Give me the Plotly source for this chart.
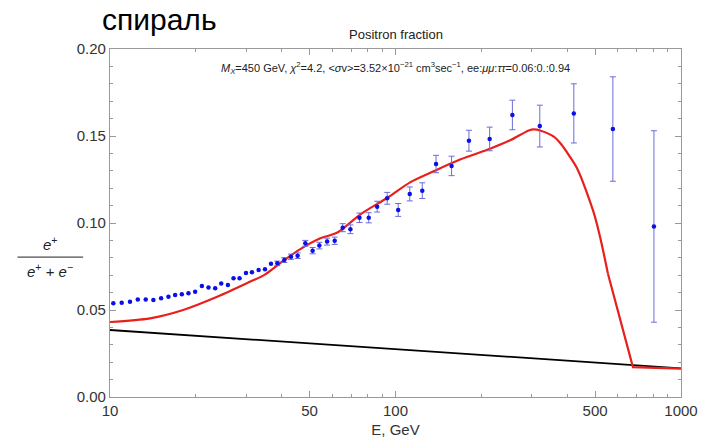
import plotly.graph_objects as go

# ---- data ----
data_E = [10.27, 10.99, 11.75, 12.51, 13.34, 14.19, 15.10, 16.02, 16.91, 17.85,
          18.83, 19.87, 20.98, 22.13, 23.36, 24.52, 25.88, 27.08, 28.43, 29.94,
          31.42, 33.15, 34.90, 36.64, 38.55, 40.79, 43.06, 45.41, 48.32, 51.25,
          54.12, 57.59, 61.24, 65.33, 69.51, 74.78, 80.59, 86.26, 93.52, 102.2,
          112.2, 124.1, 138.7, 157.2, 180.8, 213.7, 256.7, 320.2, 421.3, 577.2, 803.9]
data_val = [0.0539, 0.0542, 0.0548, 0.0561, 0.0561, 0.0557, 0.0567, 0.0576, 0.0586, 0.0590,
            0.0596, 0.0605, 0.0638, 0.0630, 0.0625, 0.0653, 0.0644, 0.0682, 0.0682, 0.0712,
            0.0717, 0.0730, 0.0734, 0.0766, 0.0768, 0.0787, 0.0806, 0.0812, 0.0883, 0.0841,
            0.0870, 0.0893, 0.0898, 0.0973, 0.0964, 0.1030, 0.1030, 0.1094, 0.1142, 0.1075,
            0.1167, 0.1186, 0.1339, 0.1328, 0.1473, 0.1483, 0.1621, 0.1557, 0.1630, 0.1540, 0.0980]
data_err = [0.0006, 0.0006, 0.0006, 0.0006, 0.0006, 0.0006, 0.0007, 0.0007, 0.0007, 0.0007,
            0.0008, 0.0008, 0.0008, 0.0008, 0.0009, 0.0009, 0.0009, 0.0010, 0.0010, 0.0010,
            0.0011, 0.0011, 0.0012, 0.0012, 0.0013, 0.0014, 0.0015, 0.0016, 0.0017, 0.0018,
            0.0019, 0.0020, 0.0021, 0.0023, 0.0025, 0.0027, 0.0029, 0.0031, 0.0034, 0.0037,
            0.0040, 0.0045, 0.0050, 0.0056, 0.0060, 0.0068, 0.0085, 0.0120, 0.0170, 0.0300, 0.0550]

model_E = [10, 13.81, 18.04, 23.74, 30.26, 34.99, 39.49, 46.42, 54.56, 62.59,
           75.39, 93.74, 112.9, 135.9, 169.1, 215.4, 253.2, 292.8, 305.0, 322.7,
           358.4, 379.3, 404.6, 435.2, 495.3, 524.0, 554.5, 615.0, 678.6, 1000]
model_val = [0.0431, 0.0452, 0.0500, 0.0576, 0.0655, 0.0705, 0.0770, 0.0850, 0.0912, 0.0945,
             0.1050, 0.1145, 0.1235, 0.1297, 0.1366, 0.1428, 0.1477, 0.1532, 0.1538, 0.1530,
             0.1496, 0.1455, 0.1390, 0.1305, 0.1057, 0.0900, 0.0710, 0.0430, 0.0172, 0.0163]

bg_E = [10, 1000]
bg_val = [0.0385, 0.0165]

marker_E = 30.3

x_ticks = [10, 50, 100, 500, 1000]
x_minor = [20, 30, 40, 60, 70, 80, 90, 200, 300, 400, 600, 700, 800, 900]
y_ticks = [0.00, 0.05, 0.10, 0.15, 0.20]

FONT = "Liberation Sans, Arial, sans-serif"
ERR_VISIBLE = 0.00125  # error bars smaller than this are hidden under the dot in the reference

fig = go.Figure()

fig.add_trace(go.Scatter(
    x=bg_E, y=bg_val, mode="lines",
    line=dict(color="black", width=1.8), hoverinfo="skip", showlegend=False))

# smooth part of the model curve and the steep linear fall-off
n_smooth = model_E.index(554.5) + 1
fig.add_trace(go.Scatter(
    x=model_E[:n_smooth], y=model_val[:n_smooth], mode="lines",
    line=dict(color="#e8201c", width=2.2, shape="spline", smoothing=0.8), showlegend=False))
fig.add_trace(go.Scatter(
    x=model_E[n_smooth - 1:], y=model_val[n_smooth - 1:], mode="lines",
    line=dict(color="#e8201c", width=2.2), showlegend=False))

small = [i for i, e in enumerate(data_err) if e < ERR_VISIBLE]
big = [i for i, e in enumerate(data_err) if e >= ERR_VISIBLE]

fig.add_trace(go.Scatter(
    x=[data_E[i] for i in small], y=[data_val[i] for i in small], mode="markers",
    marker=dict(color="#0a10e6", size=4.5), showlegend=False))
fig.add_trace(go.Scatter(
    x=[data_E[i] for i in big], y=[data_val[i] for i in big], mode="markers",
    marker=dict(color="#0a10e6", size=4.5),
    error_y=dict(type="data", array=[data_err[i] for i in big], color="#6b6bd8", thickness=1, width=3),
    showlegend=False))

fig.add_vline(x=marker_E, line=dict(color="#8fe88f", width=1.2))

fig.update_xaxes(
    type="log", range=[1, 3],
    tickmode="array", tickvals=x_ticks, ticktext=[str(v) for v in x_ticks],
    ticks="inside", ticklen=6, tickcolor="#999", mirror="allticks",
    showline=True, linecolor="#999", linewidth=1.2, showgrid=False, zeroline=False,
    tickfont=dict(family=FONT, size=15, color="#333"),
    minor=dict(tickmode="array", tickvals=x_minor, ticks="inside", ticklen=3, tickcolor="#999", showgrid=False),
    title=dict(text="E, GeV", font=dict(family=FONT, size=15, color="#333"), standoff=6),
)
fig.update_yaxes(
    range=[0, 0.2],
    tickmode="array", tickvals=y_ticks, ticktext=[f"{v:.2f}" for v in y_ticks],
    ticks="inside", ticklen=6, tickcolor="#999", mirror="allticks",
    showline=True, linecolor="#999", linewidth=1.2, showgrid=False, zeroline=False,
    tickfont=dict(family=FONT, size=15, color="#333"),
    minor=dict(dtick=0.01, ticks="inside", ticklen=3, tickcolor="#999", showgrid=False),
)

annotations = [
    dict(text="спираль", xref="paper", yref="paper", x=-0.018, y=1.0, yshift=48,
         xanchor="left", yanchor="top", showarrow=False,
         font=dict(family=FONT, size=30, color="black")),
    dict(text="Positron fraction", xref="paper", yref="paper", x=0.5, y=1.0, yshift=5,
         xanchor="center", yanchor="bottom", showarrow=False,
         font=dict(family=FONT, size=13, color="#222")),
    dict(text="<i>M<sub>X</sub></i>=450 GeV, <i>χ</i><sup>2</sup>=4.2, &lt;<i>σ</i>v&gt;=3.52×10<sup>−21</sup> cm<sup>3</sup>sec<sup>−1</sup>, ee:<i>μμ</i>:<i>ττ</i>=0.06:0.:0.94",
         xref="paper", yref="paper", x=0.5, y=0.944,
         xanchor="center", yanchor="middle", showarrow=False,
         font=dict(family=FONT, size=11, color="#222")),
    dict(text="<i>e</i><sup>+</sup>", xref="paper", yref="paper", x=-0.1045, y=0.408,
         xanchor="center", yanchor="bottom", showarrow=False,
         font=dict(family=FONT, size=15, color="#222")),
    dict(text="<i>e</i><sup>+</sup> + <i>e</i><sup>−</sup>", xref="paper", yref="paper", x=-0.1045, y=0.397,
         xanchor="center", yanchor="top", showarrow=False,
         font=dict(family=FONT, size=15, color="#222")),
]

fig.update_layout(
    width=709, height=447,
    margin=dict(l=110, r=28, t=49, b=50),
    plot_bgcolor="white", paper_bgcolor="white",
    annotations=annotations,
    shapes=[dict(type="line", xref="paper", yref="paper", x0=-0.162, x1=-0.047, y0=0.402, y1=0.402,
                 line=dict(color="#222", width=1))],
)

fig.write_html("out.html")
